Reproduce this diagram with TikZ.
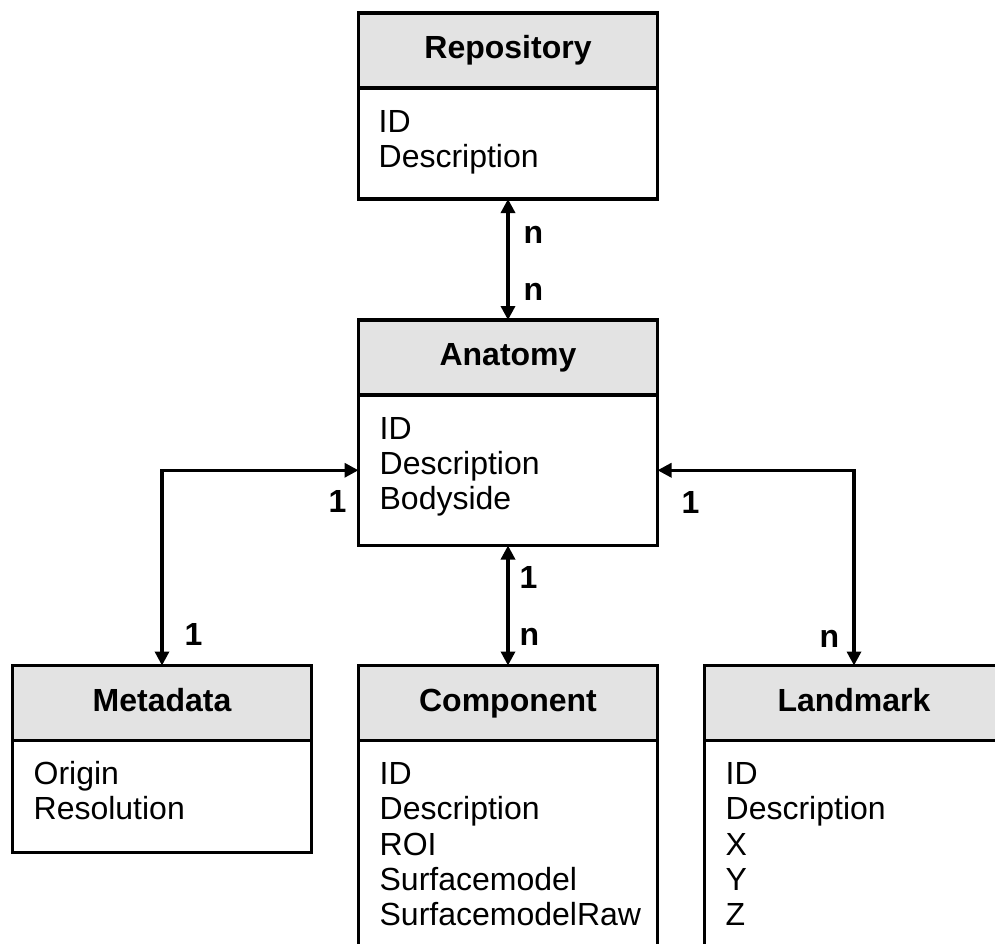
\documentclass[tikz,border=0pt]{standalone}
\usepackage{fontspec}
\setmainfont{Liberation Sans}
\usetikzlibrary{arrows.meta}
\definecolor{headgray}{RGB}{227,227,227}

\begin{document}
\begin{tikzpicture}[x = 1pt, y = -1pt, line width = 3.3pt,
  every node/.style = {font = \fontsize{32}{35}\selectfont},
  head/.style = {draw, fill = headgray, minimum width = 299pt, minimum height = 75pt, inner sep = 0pt, outer sep = 0pt, anchor = north, font = \fontsize{32}{35}\selectfont\bfseries, text height = 22pt, text depth = 6pt},
  body/.style = {draw, minimum width = 299pt, inner sep = 0pt, outer sep = 0pt, anchor = north},
  field/.style = {anchor = base west, inner sep = 0pt},
  card/.style = {anchor = base west, inner sep = 0pt, font = \fontsize{32}{35}\selectfont\bfseries},
  rel/.style = {{Triangle[length = 14pt, width = 14pt]}-{Triangle[length = 14pt, width = 14pt]}}]
\useasboundingbox (0,0) rectangle (995,943);
\clip (0,0) rectangle (995,943);
% tables
\node[head] (repohead) at (508,13) {Repository};
\node[body, minimum height = 111pt] (repo) at (repohead.south) {};
\foreach \f [count = \i] in {ID,Description} {\node[field] (repo-\i) at (377,{132+(\i-1)*35.3}) {\f};}
\node[head] (anahead) at (508,320) {Anatomy};
\node[body, minimum height = 150.5pt] (ana) at (anahead.south) {};
\foreach \f [count = \i] in {ID,Description,Bodyside} {\node[field] (ana-\i) at (378,{439+(\i-1)*35.3}) {\f};}
\node[head] (metahead) at (162,665.5) {Metadata};
\node[body, minimum height = 112pt] (meta) at (metahead.south) {};
\foreach \f [count = \i] in {Origin,Resolution} {\node[field] (meta-\i) at (32,{784.5+(\i-1)*35.3}) {\f};}
\node[head] (comphead) at (508,665.5) {Component};
\node[body, minimum height = 230pt] (comp) at (comphead.south) {};
\foreach \f [count = \i] in {ID,Description,ROI,Surfacemodel,SurfacemodelRaw} {\node[field] (comp-\i) at (378,{784.5+(\i-1)*35.3}) {\f};}
\node[head] (landhead) at (854,665.5) {Landmark};
\node[body, minimum height = 230pt] (land) at (landhead.south) {};
\foreach \f [count = \i] in {ID,Description,X,Y,Z} {\node[field] (land-\i) at (724,{784.5+(\i-1)*35.3}) {\f};}
% relations
\draw[rel] (repo.south) -- (anahead.north);
\draw[rel] (metahead.north) |- (ana.west);
\draw[rel] (ana.south) -- (comphead.north);
\draw[rel] (landhead.north) |- (ana.east);
\node[card] (repo-n) at (522,243) {n};
\node[card] (ana-n) at (522,300) {n};
\node[card] (ana-1l) at (327,512) {1};
\node[card] (meta-1) at (183,645) {1};
\node[card] (ana-1m) at (518,588) {1};
\node[card] (comp-n) at (518,645) {n};
\node[card] (ana-1r) at (680,513) {1};
\node[card] (land-n) at (818,647) {n};
\end{tikzpicture}
\end{document}
